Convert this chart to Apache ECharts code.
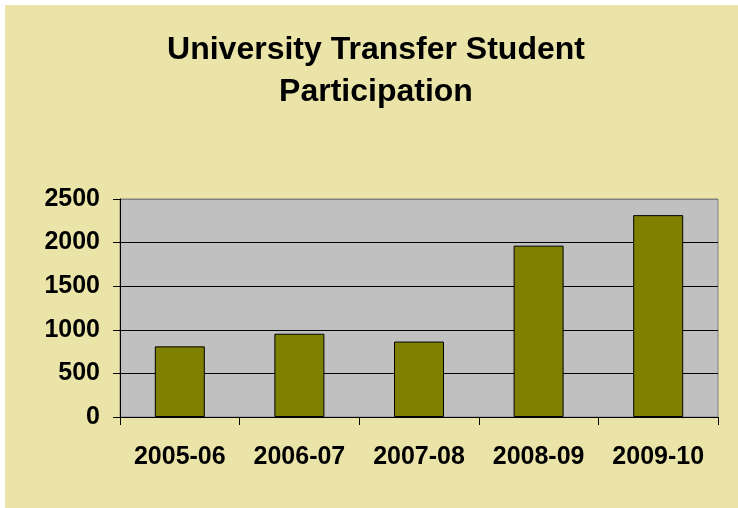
<!DOCTYPE html>
<html>
<head>
<meta charset="utf-8">
<script src="https://cdn.jsdelivr.net/npm/echarts@6/dist/echarts.min.js"></script>
<style>
  html, body { margin: 0; padding: 0; background: #fff; }
  #chart { position: absolute; left: 5px; top: 5px; width: 733px; height: 503px; }
</style>
</head>
<body>
<div id="chart"></div>
<script>
// data
const seasons = ['2005-06', '2006-07', '2007-08', '2008-09', '2009-10']
const students = [810, 955, 865, 1965, 2315]

const font = "'Liberation Sans', Arial, sans-serif"

const chart = echarts.init(document.getElementById('chart'))
chart.setOption({
  backgroundColor: '#EBE4A8',
  animation: false,
  title: {
    text: 'University Transfer Student\nParticipation',
    left: 371, // centre point of the title
    textAlign: 'center',
    top: 24,
    padding: 0,
    textStyle: {
      fontFamily: font,
      fontSize: 32,
      fontWeight: 'bold',
      color: '#000',
      lineHeight: 42
    }
  },
  grid: {
    left: 115,
    right: 20,
    top: 194,
    bottom: 91,
    show: true,
    backgroundColor: '#C0C0C0',
    borderColor: '#808080',
    borderWidth: 1
  },
  xAxis: {
    type: 'category',
    data: seasons,
    axisLine: { lineStyle: { color: '#000', width: 1 } },
    axisTick: { show: true, interval: 0, length: 8, lineStyle: { color: '#000' } },
    axisLabel: {
      interval: 0,
      margin: 28,
      fontFamily: font,
      fontSize: 25,
      fontWeight: 'bold',
      color: '#000'
    }
  },
  yAxis: {
    type: 'value',
    min: 0,
    max: 2500,
    interval: 500,
    axisLine: { show: true, lineStyle: { color: '#000', width: 1 } },
    axisTick: { show: true, length: 7, lineStyle: { color: '#000' } },
    axisLabel: {
      margin: 20,
      formatter: v => String(v),
      fontFamily: font,
      fontSize: 25,
      fontWeight: 'bold',
      color: '#000'
    },
    splitLine: {
      lineStyle: {
        color: ['#000', '#000', '#000', '#000', '#000', '#808080'],
        width: 1
      }
    }
  },
  series: [{
    type: 'bar',
    data: students,
    barWidth: 50,
    itemStyle: {
      color: '#808000',
      borderColor: '#000',
      borderWidth: 1
    }
  }]
})
</script>
</body>
</html>
